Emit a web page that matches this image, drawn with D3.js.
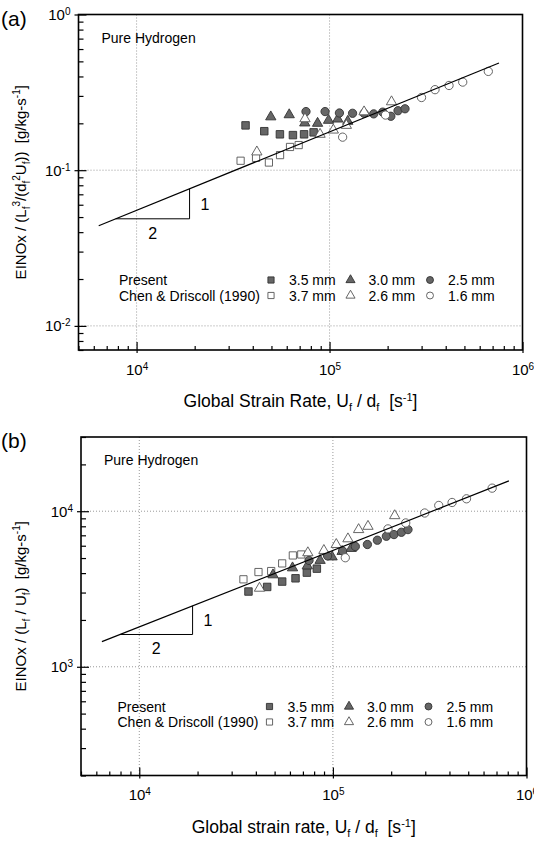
<!DOCTYPE html>
<html>
<head>
<meta charset="utf-8">
<script src="https://cdn.jsdelivr.net/npm/d3@7"></script>
<style>
  body { margin: 0; background: #fff; }
  svg { display: block; font-family: "Liberation Sans", Arial, sans-serif; }
</style>
</head>
<body>
<svg id="chart" width="534" height="841"></svg>
<script>
// ---- data: [global strain rate (1/s), normalized EINOx] ----
// panel (a)  EINOx / (Lf^3/(df^2 Uf))
const aPresent35 = [[36700, 0.194], [45900, 0.178], [55300, 0.170], [64600, 0.168], [73800, 0.170], [82700, 0.175]];
const aPresent30 = [[49600, 0.220], [61800, 0.227], [74400, 0.201], [86700, 0.200], [98800, 0.209], [110400, 0.213], [124300, 0.206]];
const aPresent25 = [[75500, 0.238], [94800, 0.238], [112500, 0.233], [131600, 0.232], [151000, 0.232], [169400, 0.230], [188700, 0.236], [207800, 0.222], [226400, 0.241], [246100, 0.248]];
const aChen37 = [[34600, 0.115], [41600, 0.120], [48500, 0.112], [55400, 0.125], [62400, 0.141], [69200, 0.145]];
const aChen26 = [[42000, 0.131], [74600, 0.214], [89300, 0.170], [104600, 0.181], [122200, 0.194], [151000, 0.237], [209500, 0.275]];
const aChen16 = [[116900, 0.163], [195000, 0.226], [299700, 0.293], [352100, 0.329], [416100, 0.350], [490000, 0.368], [665000, 0.431]];
const aFit = [[6363, 0.0440], [755300, 0.488]];
const aSlopeX = [7790, 18820];

// panel (b)  EINOx / (Lf / Uf)
const bPresent35 = [[36640, 3046], [45770, 3260], [54710, 3529], [64120, 3705], [73380, 4029], [82620, 4273]];
const bPresent30 = [[49060, 3899], [61870, 4324], [73740, 4453], [85870, 4828], [99060, 5083], [111600, 5512], [124300, 5761]];
const bPresent25 = [[75310, 4828], [93890, 5159], [112200, 5553], [130600, 5933], [150700, 6110], [169700, 6509], [188900, 6902], [206800, 7077], [225900, 7320], [244300, 7617]];
const bChen37 = [[34510, 3650], [41270, 4064], [48000, 4124], [54710, 4619], [62100, 5197], [68640, 5272]];
const bChen26 = [[41770, 3198], [74240, 5407], [89830, 5593], [104100, 6110], [119600, 6645], [135800, 7617], [151800, 7995], [208600, 9360]];
const bChen16 = [[115900, 5023], [192500, 7696], [237800, 8406], [298100, 9739], [352200, 10890], [412700, 11380], [489900, 12020], [664600, 14070]];
const bFit = [[6412, 1451], [811000, 15660]];
const bSlopeX = [7950, 18850];

const legendRows = ["Present", "Chen & Driscoll (1990)"];
const presentLabels = ["3.5 mm", "3.0 mm", "2.5 mm"];
const chenLabels = ["3.7 mm", "2.6 mm", "1.6 mm"];
const slopeLabels = ["1", "2"];

const svg = d3.select("#chart");
const FILL = "#666", EDGE = "#333", OPEN_EDGE = "#555";

// text with sub/superscripts: parts = [[text, "n"|"sub"|"sup"], ...]
function rich(text, parts, small = "11px") {
  let shift = 0;
  parts.forEach(([t, m]) => {
    const target = m === "sup" ? -6 : m === "sub" ? 4 : 0;
    text.append("tspan")
      .attr("dy", target - shift)
      .attr("font-size", m === "n" ? null : small)
      .text(t);
    shift = target;
  });
}

const isMajor = v => Math.abs(Math.log10(v) - Math.round(Math.log10(v))) < 1e-6;

function panel(p) {
  const x = d3.scaleLog().domain([5000, 1e6]).range([p.left, p.right]);
  const y = d3.scaleLog().domain(p.yDomain).range([p.bottom, p.top]);
  const g = svg.append("g");

  // dotted grid at decades
  g.append("g")
    .attr("stroke", "#999")
    .attr("stroke-dasharray", "1,2")
    .call(gg => gg.selectAll("line.v").data([1e4, 1e5]).join("line")
      .attr("x1", x).attr("x2", x).attr("y1", p.top).attr("y2", p.bottom))
    .call(gg => gg.selectAll("line.h").data(y.ticks().filter(isMajor).filter(v => y(v) > p.top + 2)).join("line")
      .attr("y1", y).attr("y2", y).attr("x1", p.left).attr("x2", p.right));

  // x axis
  g.append("g")
    .attr("transform", `translate(0,${p.bottom})`)
    .call(d3.axisBottom(x).tickValues(x.ticks()).tickSizeInner(-4).tickSizeOuter(0).tickPadding(14)
      .tickFormat(v => isMajor(v) ? "10" : ""))
    .call(a => a.select(".domain").remove())
    .call(a => a.selectAll(".tick line").attr("stroke-width", 1.2))
    .call(a => a.selectAll(".tick line").filter(isMajor).attr("y1", 3).attr("y2", -8))
    .call(a => a.selectAll(".tick text")
      .attr("font-size", 15).attr("font-family", "Liberation Sans, Arial, sans-serif").attr("fill", "#000")
      .filter(isMajor).append("tspan").attr("dy", "-0.5em").attr("font-size", "10px")
      .text(v => Math.round(Math.log10(v))));

  // y axis
  g.append("g")
    .attr("transform", `translate(${p.left},0)`)
    .call(d3.axisLeft(y).tickValues(y.ticks()).tickSizeInner(-5).tickSizeOuter(0).tickPadding(8)
      .tickFormat(v => isMajor(v) ? "10" : ""))
    .call(a => a.select(".domain").remove())
    .call(a => a.selectAll(".tick line").attr("stroke-width", 1.2))
    .call(a => a.selectAll(".tick line").filter(isMajor).attr("x1", -4).attr("x2", 8))
    .call(a => a.selectAll(".tick text")
      .attr("font-size", 15).attr("font-family", "Liberation Sans, Arial, sans-serif").attr("fill", "#000")
      .filter(isMajor).append("tspan").attr("dy", "-0.5em").attr("font-size", "10px")
      .text(v => Math.round(Math.log10(v))));

  // frame
  g.append("rect")
    .attr("x", p.left).attr("y", p.top)
    .attr("width", p.right - p.left).attr("height", p.bottom - p.top)
    .attr("fill", "none").attr("stroke", "#000").attr("stroke-width", 1.6);

  // data series
  const series = [
    { data: p.chen37, type: d3.symbolSquare, filled: false, size: 52 },
    { data: p.present35, type: d3.symbolSquare, filled: true, size: 56 },
    { data: p.present30, type: d3.symbolTriangle, filled: true, size: 46 },
    { data: p.present25, type: d3.symbolCircle, filled: true, size: 54 },
    { data: p.chen26, type: d3.symbolTriangle, filled: false, size: 46 },
    { data: p.chen16, type: d3.symbolCircle, filled: false, size: 54 },
  ];
  series.forEach(s => {
    g.append("g").selectAll("path").data(s.data).join("path")
      .attr("transform", d => `translate(${x(d[0])},${y(d[1])})`)
      .attr("d", d3.symbol(s.type, s.size))
      .attr("fill", s.filled ? FILL : "#fff")
      .attr("stroke", s.filled ? EDGE : OPEN_EDGE)
      .attr("stroke-width", 0.9);
  });

  // power-law fit
  g.append("path")
    .datum(p.fit)
    .attr("d", d3.line(d => x(d[0]), d => y(d[1])))
    .attr("fill", "none").attr("stroke", "#000").attr("stroke-width", 1.2);

  // slope triangle (1:2)
  const fitAt = v => {
    const [[x0, y0], [x1, y1]] = p.fit;
    const k = Math.log(y1 / y0) / Math.log(x1 / x0);
    return y0 * Math.pow(v / x0, k);
  };
  const [sx0, sx1] = p.slopeX;
  const base = fitAt(sx0);
  g.append("path")
    .datum([[sx0, base], [sx1, base], [sx1, fitAt(sx1)]])
    .attr("d", d3.line(d => x(d[0]), d => y(d[1])))
    .attr("fill", "none").attr("stroke", "#000").attr("stroke-width", 1);
  g.append("text")
    .attr("x", x(sx1) + 11)
    .attr("y", (y(base) + y(fitAt(sx1))) / 2 + 6)
    .attr("font-size", 16)
    .text(slopeLabels[0]);
  g.append("text")
    .attr("x", (x(sx0) + x(sx1)) / 2)
    .attr("y", y(base) + 20)
    .attr("text-anchor", "middle")
    .attr("font-size", 16)
    .text(slopeLabels[1]);

  // labels
  g.append("text").attr("x", p.left + 23).attr("y", p.top + 28).attr("font-size", 14).text("Pure Hydrogen");
  svg.append("text").attr("x", 1).attr("y", p.top + 11).attr("font-size", 21).text(p.tag);

  // legend
  const lg = g.append("g").attr("font-size", 14);
  legendRows.forEach((row, r) => {
    const by = p.legendY + r * 15.5;
    lg.append("text").attr("x", p.legendX).attr("y", by).text(row);
    const labels = r === 0 ? presentLabels : chenLabels;
    [d3.symbolSquare, d3.symbolTriangle, d3.symbolCircle].forEach((t, c) => {
      const cx = p.legendX + 152 + c * 79.5;
      lg.append("path")
        .attr("transform", `translate(${cx},${by - 5})`)
        .attr("d", d3.symbol(t, t === d3.symbolTriangle ? 36 : 38))
        .attr("fill", r === 0 ? FILL : "#fff")
        .attr("stroke", r === 0 ? EDGE : OPEN_EDGE)
        .attr("stroke-width", 0.9);
      lg.append("text").attr("x", cx + 18).attr("y", by).text(labels[c]);
    });
  });

  // axis titles
  const yt = svg.append("text")
    .attr("transform", `translate(${p.yTitleX},${(p.top + p.bottom) / 2}) rotate(-90)`)
    .attr("text-anchor", "middle")
    .attr("font-size", 15)
    .style("white-space", "pre");
  rich(yt, p.yTitle, "10px");
  const xt = svg.append("text")
    .attr("x", (p.left + p.right) / 2)
    .attr("y", p.bottom + 57)
    .attr("text-anchor", "middle")
    .attr("font-size", 17.5)
    .style("white-space", "pre");
  rich(xt, p.xTitle);
}

panel({
  tag: "(a)", left: 78.5, right: 522.5, top: 14.5, bottom: 350, yDomain: [0.007, 1],
  present35: aPresent35, present30: aPresent30, present25: aPresent25,
  chen37: aChen37, chen26: aChen26, chen16: aChen16,
  fit: aFit, slopeX: aSlopeX, legendX: 119, legendY: 285, yTitleX: 26,
  yTitle: [["EINOx / (L", "n"], ["f", "sub"], ["3", "sup"], ["/(d", "n"], ["f", "sub"], ["2", "sup"], ["U", "n"], ["f", "sub"], ["))  [g/kg-s", "n"], ["-1", "sup"], ["]", "n"]],
  xTitle: [["Global Strain Rate, U", "n"], ["f", "sub"], [" / d", "n"], ["f", "sub"], ["  [s", "n"], ["-1", "sup"], ["]", "n"]]
});

panel({
  tag: "(b)", left: 81, right: 526.5, top: 437, bottom: 775.5, yDomain: [200, 30000],
  present35: bPresent35, present30: bPresent30, present25: bPresent25,
  chen37: bChen37, chen26: bChen26, chen16: bChen16,
  fit: bFit, slopeX: bSlopeX, legendX: 117.5, legendY: 711.5, yTitleX: 26,
  yTitle: [["EINOx / (L", "n"], ["f", "sub"], [" / U", "n"], ["f", "sub"], [")  [g/kg-s", "n"], ["-1", "sup"], ["]", "n"]],
  xTitle: [["Global strain rate, U", "n"], ["f", "sub"], [" / d", "n"], ["f", "sub"], ["  [s", "n"], ["-1", "sup"], ["]", "n"]]
});
</script>
</body>
</html>
